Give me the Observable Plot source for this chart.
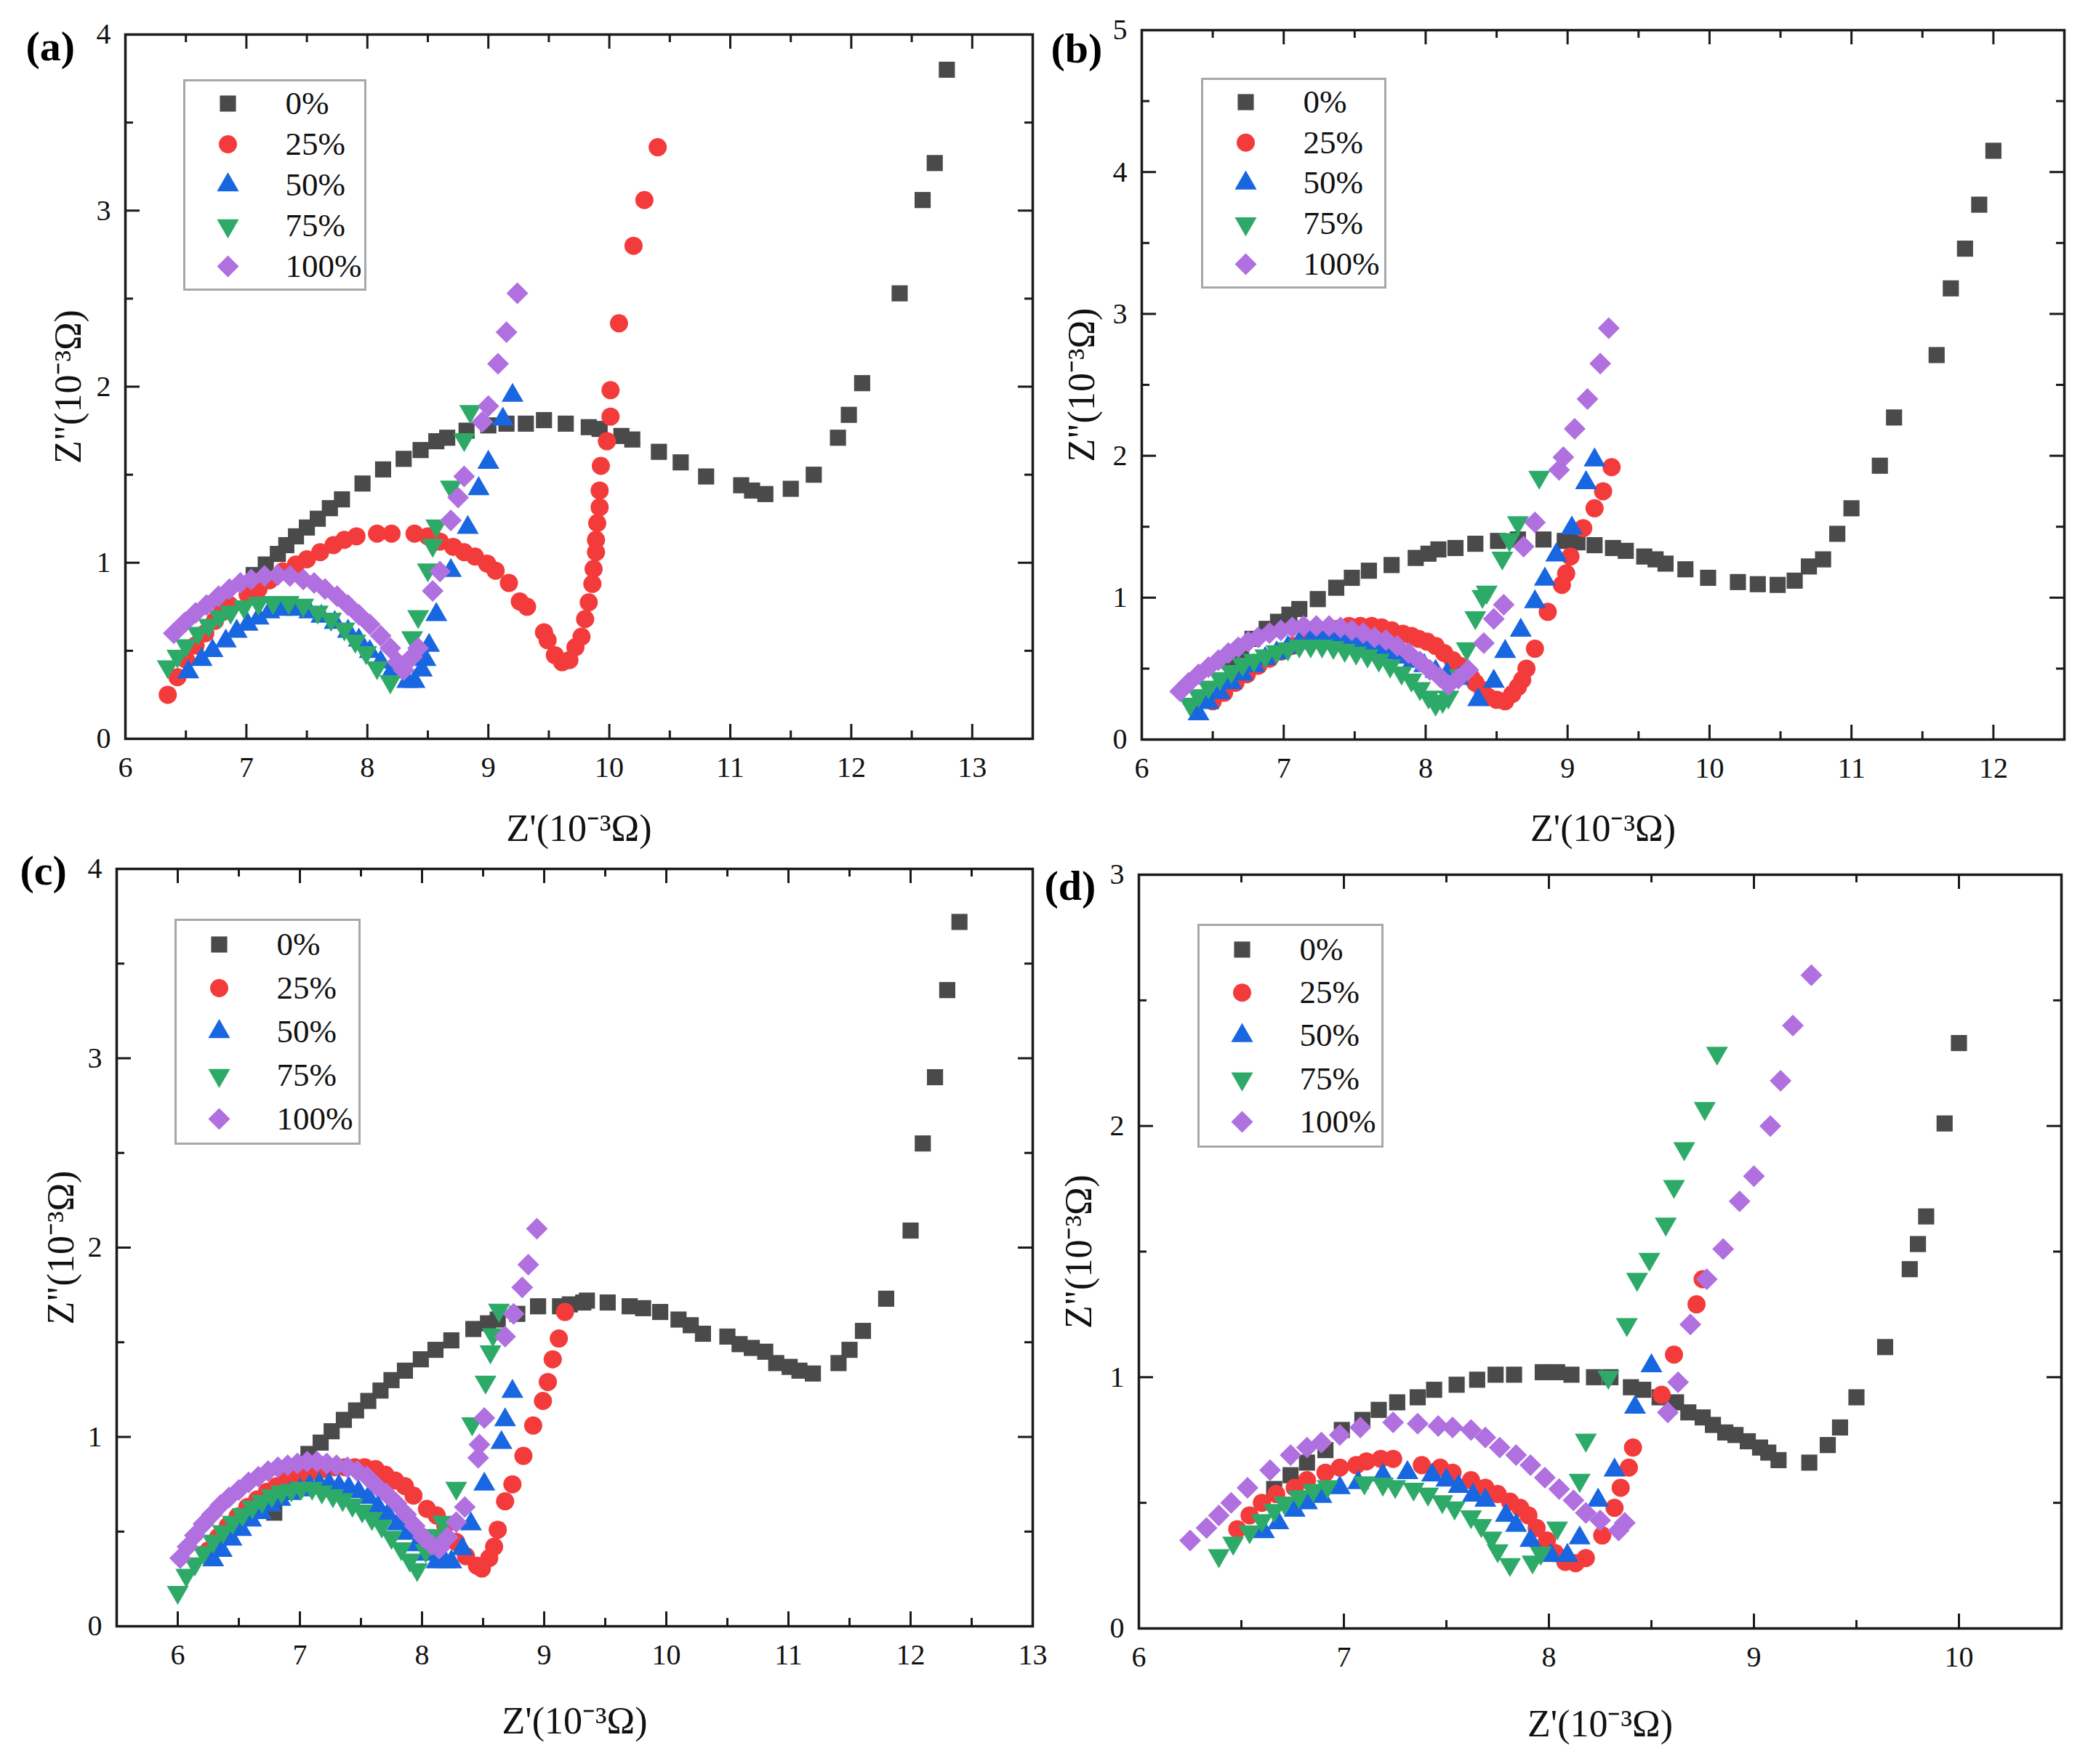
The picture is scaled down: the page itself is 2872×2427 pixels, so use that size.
<!DOCTYPE html>
<html><head><meta charset="utf-8">
<script src="https://cdn.jsdelivr.net/npm/d3@7"></script>
<script src="https://cdn.jsdelivr.net/npm/@observablehq/plot@0.6"></script>
<style>
body{margin:0;background:#fff;}
#root{position:relative;width:2872px;height:2427px;background:#fff;overflow:hidden;}
.panel{position:absolute;}
.panel svg{overflow:visible;}
</style></head><body><div id="root"></div>
<script>
// ---------- legend / series ----------
const seriesNames = ["0%", "25%", "50%", "75%", "100%"];
const seriesColors = ["#4a4a4a", "#f43b3b", "#1866e0", "#2eaa68", "#b070e0"];
const seriesSymbols = ["square", "circle", "triangle", "triangle", "diamond2"];
const xTitle = "Z'(10⁻³Ω)";
const yTitle = 'Z"(10⁻³Ω)';

// ---------- panel (a) ----------
const a0 = [[7.06,0.93],[7.16,0.99],[7.26,1.05],[7.33,1.10],[7.41,1.15],[7.50,1.20],[7.59,1.25],[7.69,1.31],[7.79,1.36],[7.96,1.45],[8.13,1.53],[8.30,1.59],[8.44,1.64],[8.57,1.69],[8.66,1.71],[8.82,1.75],[9.00,1.78],[9.15,1.79],[9.31,1.79],[9.46,1.81],[9.64,1.79],[9.83,1.77],[9.92,1.76],[10.10,1.72],[10.19,1.70],[10.41,1.63],[10.59,1.57],[10.80,1.49],[11.09,1.44],[11.18,1.41],[11.29,1.39],[11.50,1.42],[11.69,1.50],[11.89,1.71],[11.98,1.84],[12.09,2.02],[12.40,2.53],[12.59,3.06],[12.69,3.27],[12.79,3.80]];
const a1 = [[6.35,0.25],[6.43,0.35],[6.50,0.45],[6.58,0.53],[6.66,0.60],[6.74,0.67],[6.80,0.72],[6.86,0.76],[7.01,0.82],[7.10,0.85],[7.19,0.90],[7.30,0.95],[7.41,0.99],[7.50,1.02],[7.61,1.06],[7.72,1.10],[7.81,1.13],[7.91,1.15],[8.08,1.165],[8.20,1.165],[8.39,1.165],[8.50,1.15],[8.60,1.12],[8.71,1.09],[8.80,1.06],[8.89,1.035],[8.99,0.995],[9.06,0.955],[9.17,0.885],[9.26,0.78],[9.32,0.75],[9.46,0.605],[9.49,0.56],[9.55,0.475],[9.61,0.435],[9.67,0.447],[9.72,0.52],[9.77,0.58],[9.80,0.68],[9.83,0.775],[9.86,0.88],[9.87,0.965],[9.89,1.06],[9.89,1.13],[9.90,1.225],[9.92,1.315],[9.92,1.41],[9.93,1.55],[9.98,1.69],[10.01,1.83],[10.01,1.98],[10.08,2.36],[10.20,2.80],[10.29,3.06],[10.40,3.36]];
const a2 = [[6.52,0.38],[6.63,0.45],[6.72,0.50],[6.83,0.555],[6.92,0.61],[7.01,0.65],[7.10,0.685],[7.19,0.72],[7.29,0.735],[7.41,0.735],[7.52,0.72],[7.62,0.695],[7.73,0.66],[7.84,0.61],[7.93,0.56],[8.02,0.495],[8.11,0.435],[8.20,0.38],[8.33,0.325],[8.39,0.325],[8.45,0.39],[8.48,0.45],[8.51,0.53],[8.57,0.705],[8.69,0.955],[8.83,1.20],[8.92,1.42],[9.00,1.57],[9.12,1.815],[9.20,1.95]];
const a3 = [[6.35,0.41],[6.43,0.47],[6.50,0.53],[6.60,0.60],[6.69,0.645],[6.78,0.695],[6.87,0.72],[6.98,0.75],[7.10,0.77],[7.22,0.775],[7.35,0.775],[7.47,0.76],[7.59,0.72],[7.70,0.68],[7.81,0.625],[7.90,0.555],[7.99,0.49],[8.08,0.405],[8.19,0.325],[8.30,0.435],[8.37,0.575],[8.42,0.695],[8.50,0.96],[8.54,1.10],[8.57,1.21],[8.69,1.43],[8.80,1.70],[8.85,1.86]];
const a4 = [[6.40,0.60],[6.49,0.66],[6.58,0.715],[6.67,0.76],[6.77,0.81],[6.86,0.85],[6.95,0.885],[7.04,0.905],[7.15,0.925],[7.26,0.93],[7.36,0.925],[7.47,0.905],[7.56,0.885],[7.65,0.85],[7.75,0.81],[7.84,0.76],[7.93,0.705],[8.02,0.65],[8.11,0.585],[8.19,0.515],[8.25,0.435],[8.30,0.39],[8.37,0.465],[8.42,0.515],[8.54,0.84],[8.60,0.95],[8.69,1.24],[8.75,1.37],[8.80,1.49],[8.95,1.80],[9.00,1.89],[9.08,2.13],[9.15,2.31],[9.24,2.53]];
const aXTicks = [6,7,8,9,10,11,12,13];
const aXMinor = [6.5,7.5,8.5,9.5,10.5,11.5,12.5];
const aYTicks = [0,1,2,3,4];
const aYMinor = [0.5,1.5,2.5,3.5];

// ---------- panel (b) ----------
const b0 = [[6.62,0.55],[6.70,0.63],[6.78,0.71],[6.88,0.78],[6.96,0.83],[7.04,0.88],[7.11,0.92],[7.24,0.99],[7.37,1.07],[7.48,1.14],[7.60,1.19],[7.76,1.23],[7.93,1.28],[8.02,1.31],[8.09,1.34],[8.21,1.35],[8.35,1.38],[8.51,1.40],[8.65,1.41],[8.83,1.41],[8.98,1.40],[9.07,1.39],[9.19,1.37],[9.32,1.35],[9.41,1.33],[9.54,1.29],[9.62,1.27],[9.69,1.24],[9.83,1.20],[9.99,1.14],[10.20,1.11],[10.34,1.095],[10.48,1.09],[10.60,1.12],[10.70,1.22],[10.80,1.27],[10.90,1.45],[11.00,1.63],[11.20,1.93],[11.30,2.27],[11.60,2.71],[11.70,3.18],[11.80,3.46],[11.90,3.77],[12.00,4.15]];
const b1 = [[6.50,0.27],[6.58,0.33],[6.66,0.40],[6.74,0.46],[6.82,0.52],[6.90,0.57],[6.98,0.62],[7.06,0.66],[7.14,0.70],[7.22,0.73],[7.30,0.76],[7.38,0.78],[7.46,0.80],[7.54,0.80],[7.62,0.80],[7.69,0.79],[7.76,0.77],[7.84,0.745],[7.90,0.73],[7.95,0.71],[8.01,0.69],[8.07,0.66],[8.13,0.61],[8.19,0.56],[8.24,0.52],[8.28,0.49],[8.32,0.44],[8.35,0.40],[8.40,0.35],[8.44,0.30],[8.50,0.28],[8.56,0.27],[8.61,0.32],[8.65,0.37],[8.68,0.42],[8.71,0.50],[8.77,0.64],[8.86,0.90],[8.96,1.09],[8.99,1.17],[9.02,1.29],[9.11,1.49],[9.19,1.63],[9.25,1.75],[9.31,1.92]];
const b2 = [[6.40,0.18],[6.47,0.26],[6.55,0.33],[6.63,0.40],[6.71,0.46],[6.79,0.52],[6.87,0.57],[6.95,0.61],[7.03,0.65],[7.11,0.68],[7.19,0.70],[7.27,0.71],[7.35,0.71],[7.43,0.70],[7.51,0.69],[7.59,0.67],[7.67,0.64],[7.75,0.61],[7.83,0.58],[7.91,0.55],[7.99,0.52],[8.07,0.48],[8.15,0.46],[8.23,0.43],[8.37,0.28],[8.48,0.41],[8.56,0.62],[8.67,0.77],[8.77,0.97],[8.84,1.13],[8.92,1.30],[9.03,1.49],[9.13,1.81],[9.19,1.97]];
const b3 = [[6.34,0.25],[6.40,0.31],[6.47,0.37],[6.55,0.43],[6.63,0.48],[6.71,0.53],[6.79,0.56],[6.87,0.59],[6.95,0.62],[7.03,0.64],[7.11,0.66],[7.19,0.66],[7.27,0.66],[7.35,0.65],[7.43,0.63],[7.51,0.61],[7.59,0.59],[7.67,0.56],[7.75,0.52],[7.83,0.47],[7.90,0.42],[7.96,0.36],[8.02,0.30],[8.07,0.25],[8.12,0.27],[8.16,0.30],[8.24,0.45],[8.29,0.64],[8.35,0.86],[8.40,1.01],[8.43,1.04],[8.54,1.28],[8.59,1.41],[8.65,1.53],[8.80,1.85]];
const b4 = [[6.27,0.34],[6.33,0.40],[6.40,0.46],[6.47,0.51],[6.54,0.56],[6.61,0.61],[6.68,0.65],[6.75,0.69],[6.82,0.72],[6.90,0.75],[6.98,0.77],[7.06,0.79],[7.14,0.80],[7.23,0.80],[7.32,0.80],[7.40,0.79],[7.48,0.77],[7.56,0.75],[7.64,0.72],[7.72,0.70],[7.80,0.66],[7.88,0.61],[7.96,0.55],[8.03,0.49],[8.10,0.44],[8.16,0.385],[8.23,0.43],[8.30,0.49],[8.41,0.68],[8.48,0.85],[8.55,0.95],[8.69,1.36],[8.77,1.53],[8.94,1.90],[8.97,1.99],[9.05,2.19],[9.14,2.40],[9.23,2.65],[9.29,2.90]];
const bXTicks = [6,7,8,9,10,11,12];
const bXMinor = [6.5,7.5,8.5,9.5,10.5,11.5];
const bYTicks = [0,1,2,3,4,5];
const bYMinor = [0.5,1.5,2.5,3.5,4.5];

// ---------- panel (c) ----------
const c0 = [[6.79,0.60],[6.88,0.71],[6.97,0.81],[7.07,0.91],[7.17,0.97],[7.26,1.03],[7.36,1.09],[7.46,1.14],[7.56,1.19],[7.66,1.245],[7.75,1.30],[7.86,1.35],[7.99,1.41],[8.11,1.46],[8.24,1.51],[8.42,1.57],[8.54,1.60],[8.62,1.62],[8.78,1.65],[8.95,1.69],[9.13,1.69],[9.21,1.70],[9.32,1.71],[9.35,1.72],[9.52,1.71],[9.70,1.69],[9.81,1.68],[9.95,1.66],[10.10,1.62],[10.20,1.59],[10.30,1.545],[10.50,1.53],[10.60,1.49],[10.70,1.47],[10.81,1.45],[10.90,1.39],[11.01,1.37],[11.09,1.35],[11.20,1.335],[11.41,1.39],[11.50,1.46],[11.61,1.56],[11.80,1.73],[12.00,2.09],[12.10,2.55],[12.20,2.90],[12.30,3.36],[12.40,3.72]];
const c1 = [[6.25,0.40],[6.33,0.47],[6.41,0.53],[6.49,0.58],[6.57,0.63],[6.65,0.67],[6.73,0.71],[6.81,0.74],[6.89,0.77],[6.97,0.79],[7.05,0.81],[7.13,0.82],[7.21,0.83],[7.29,0.84],[7.37,0.84],[7.45,0.84],[7.53,0.84],[7.62,0.83],[7.70,0.80],[7.78,0.77],[7.86,0.74],[7.93,0.69],[8.04,0.62],[8.12,0.585],[8.19,0.535],[8.28,0.445],[8.36,0.37],[8.45,0.32],[8.49,0.305],[8.55,0.36],[8.59,0.42],[8.62,0.51],[8.68,0.66],[8.74,0.75],[8.83,0.90],[8.91,1.06],[8.99,1.19],[9.03,1.29],[9.07,1.41],[9.12,1.52],[9.17,1.66]];
const c2 = [[6.29,0.35],[6.36,0.40],[6.44,0.46],[6.52,0.51],[6.60,0.56],[6.68,0.60],[6.76,0.64],[6.84,0.67],[6.92,0.70],[7.00,0.72],[7.08,0.74],[7.16,0.75],[7.24,0.75],[7.32,0.74],[7.40,0.73],[7.48,0.71],[7.56,0.68],[7.64,0.63],[7.72,0.59],[7.80,0.54],[7.88,0.49],[7.96,0.43],[8.04,0.38],[8.12,0.34],[8.19,0.34],[8.24,0.34],[8.33,0.41],[8.40,0.54],[8.51,0.75],[8.65,0.97],[8.68,1.09],[8.74,1.24]];
const c3 = [[6.00,0.18],[6.07,0.27],[6.14,0.33],[6.21,0.39],[6.29,0.45],[6.37,0.50],[6.45,0.55],[6.53,0.59],[6.61,0.63],[6.69,0.66],[6.77,0.69],[6.85,0.71],[6.93,0.72],[7.01,0.73],[7.10,0.73],[7.18,0.71],[7.27,0.69],[7.35,0.67],[7.43,0.64],[7.51,0.61],[7.59,0.57],[7.67,0.53],[7.75,0.47],[7.83,0.41],[7.90,0.35],[7.96,0.30],[8.03,0.40],[8.09,0.48],[8.17,0.55],[8.28,0.73],[8.41,1.07],[8.52,1.29],[8.56,1.45],[8.58,1.54],[8.63,1.67]];
const c4 = [[6.02,0.36],[6.08,0.42],[6.14,0.48],[6.21,0.54],[6.28,0.59],[6.35,0.64],[6.42,0.68],[6.50,0.72],[6.58,0.76],[6.66,0.79],[6.74,0.82],[6.82,0.84],[6.90,0.85],[6.98,0.86],[7.06,0.87],[7.14,0.87],[7.22,0.86],[7.30,0.85],[7.39,0.84],[7.47,0.82],[7.55,0.79],[7.63,0.74],[7.71,0.70],[7.79,0.65],[7.87,0.59],[7.94,0.53],[8.01,0.47],[8.08,0.43],[8.14,0.41],[8.21,0.47],[8.28,0.55],[8.35,0.63],[8.46,0.89],[8.47,0.96],[8.51,1.10],[8.68,1.53],[8.75,1.65],[8.82,1.79],[8.87,1.91],[8.94,2.10]];
const cXTicks = [6,7,8,9,10,11,12,13];
const cXMinor = [6.5,7.5,8.5,9.5,10.5,11.5,12.5];
const cYTicks = [0,1,2,3,4];
const cYMinor = [0.5,1.5,2.5,3.5];

// ---------- panel (d) ----------
const d0 = [[6.66,0.555],[6.74,0.61],[6.82,0.66],[6.91,0.71],[6.99,0.79],[7.09,0.83],[7.17,0.87],[7.26,0.90],[7.36,0.92],[7.44,0.95],[7.55,0.97],[7.65,0.99],[7.74,1.01],[7.83,1.01],[7.97,1.02],[8.04,1.02],[8.11,1.01],[8.22,1.00],[8.30,1.00],[8.40,0.96],[8.46,0.95],[8.54,0.92],[8.62,0.90],[8.68,0.86],[8.75,0.84],[8.80,0.81],[8.86,0.78],[8.91,0.77],[8.97,0.745],[9.03,0.72],[9.07,0.70],[9.12,0.67],[9.27,0.66],[9.36,0.73],[9.42,0.80],[9.50,0.92],[9.64,1.12],[9.76,1.43],[9.80,1.53],[9.84,1.64],[9.93,2.01],[10.00,2.33]];
const d1 = [[6.48,0.395],[6.54,0.45],[6.60,0.50],[6.67,0.535],[6.76,0.56],[6.82,0.59],[6.91,0.62],[6.98,0.64],[7.06,0.65],[7.11,0.665],[7.18,0.675],[7.24,0.675],[7.38,0.65],[7.47,0.64],[7.53,0.62],[7.62,0.59],[7.69,0.56],[7.75,0.535],[7.81,0.505],[7.86,0.48],[7.90,0.45],[7.94,0.40],[7.99,0.35],[8.03,0.30],[8.08,0.265],[8.13,0.26],[8.18,0.28],[8.26,0.37],[8.32,0.48],[8.35,0.56],[8.39,0.64],[8.41,0.72],[8.55,0.93],[8.61,1.09],[8.72,1.29],[8.75,1.39]];
const d2 = [[6.61,0.385],[6.68,0.42],[6.76,0.47],[6.82,0.50],[6.89,0.525],[6.98,0.56],[7.07,0.58],[7.19,0.61],[7.31,0.62],[7.43,0.61],[7.50,0.59],[7.56,0.565],[7.63,0.53],[7.69,0.51],[7.79,0.45],[7.84,0.41],[7.91,0.35],[8.01,0.29],[8.09,0.29],[8.15,0.36],[8.24,0.51],[8.32,0.63],[8.42,0.88],[8.50,1.045]];
const d3 = [[6.39,0.29],[6.46,0.34],[6.54,0.385],[6.60,0.43],[6.66,0.47],[6.71,0.50],[6.78,0.525],[6.85,0.55],[6.92,0.565],[7.10,0.58],[7.19,0.575],[7.25,0.565],[7.34,0.555],[7.41,0.535],[7.48,0.505],[7.54,0.48],[7.62,0.445],[7.67,0.41],[7.72,0.36],[7.75,0.31],[7.81,0.255],[7.92,0.265],[7.96,0.30],[8.04,0.40],[8.15,0.59],[8.18,0.75],[8.29,1.00],[8.38,1.21],[8.43,1.39],[8.49,1.47],[8.57,1.61],[8.61,1.76],[8.66,1.91],[8.76,2.07],[8.82,2.29]];
const d4 = [[6.25,0.35],[6.33,0.40],[6.39,0.45],[6.45,0.50],[6.53,0.56],[6.64,0.63],[6.74,0.69],[6.82,0.72],[6.89,0.74],[6.98,0.77],[7.08,0.80],[7.24,0.82],[7.36,0.815],[7.46,0.806],[7.53,0.80],[7.62,0.79],[7.69,0.76],[7.76,0.72],[7.84,0.69],[7.91,0.65],[7.98,0.60],[8.05,0.555],[8.12,0.51],[8.18,0.46],[8.25,0.43],[8.34,0.39],[8.37,0.42],[8.58,0.86],[8.63,0.98],[8.69,1.21],[8.77,1.39],[8.85,1.51],[8.93,1.70],[9.00,1.80],[9.08,2.00],[9.13,2.18],[9.19,2.40],[9.28,2.60]];
const dXTicks = [6,7,8,9,10];
const dXMinor = [6.5,7.5,8.5,9.5];
const dYTicks = [0,1,2,3];
const dYMinor = [0.5,1.5,2.5];

// ---------- drawing ----------
const FONT = "'Liberation Serif', 'Times New Roman', serif";
const dotR = [12.5, 12.5, 11.2, 11.2, 13.5];
const dotRot = [0, 0, 0, 180, 0];

function drawPanel(p) {
  const fw = p.width - p.ml - p.mr, fh = p.height - p.mt - p.mb;
  const marks = [];
  const tickStyle = {stroke: "#1a1a1a", strokeWidth: 3};
  // ticks pointing inwards on all four sides
  const addTicksX = (ticks, len) => {
    marks.push(Plot.tickX(ticks, {x: d => d, insetTop: fh - len, ...tickStyle}));
    marks.push(Plot.tickX(ticks, {x: d => d, insetBottom: fh - len, ...tickStyle}));
  };
  const addTicksY = (ticks, len) => {
    marks.push(Plot.tickY(ticks, {y: d => d, insetRight: fw - len, ...tickStyle}));
    marks.push(Plot.tickY(ticks, {y: d => d, insetLeft: fw - len, ...tickStyle}));
  };
  addTicksX(p.xTicks, 20); addTicksX(p.xMinor, 11);
  addTicksY(p.yTicks, 20); addTicksY(p.yMinor, 11);
  // series
  p.series.forEach((s, i) => {
    marks.push(Plot.dot(s, {x: d => d[0], y: d => d[1], symbol: seriesSymbols[i], fill: seriesColors[i], r: dotR[i], rotate: dotRot[i]}));
  });
  marks.push(Plot.frame({stroke: "#1a1a1a", strokeWidth: 3.5}));
  // tick labels
  marks.push(Plot.axisX({ticks: p.xTicks, tickSize: 0, tickPadding: 24, label: null, tickFormat: d => String(d), fontSize: 40, fill: "#111"}));
  marks.push(Plot.axisY({ticks: p.yTicks, tickSize: 0, tickPadding: 20, label: null, tickFormat: d => String(d), fontSize: 40, fill: "#111"}));
  // axis titles
  marks.push(Plot.text([xTitle], {frameAnchor: "bottom", dy: p.xtDy, text: d => d, fontSize: 52, textAnchor: "middle", lineAnchor: "middle", fill: "#111"}));
  marks.push(Plot.text([yTitle], {frameAnchor: "left", dx: -p.ytDx, text: d => d, fontSize: 52, rotate: -90, textAnchor: "middle", lineAnchor: "middle", fill: "#111"}));
  // panel label
  marks.push(Plot.text([p.label], {frameAnchor: "top-left", dx: p.lx, dy: p.ly, text: d => d, fontSize: 58, fontWeight: "bold", textAnchor: "start", lineAnchor: "bottom", fill: "#000"}));
  // legend box
  const lg = p.legend;
  marks.push(Plot.frame({insetLeft: lg.left, insetTop: lg.top, insetRight: fw - lg.left - lg.w, insetBottom: fh - lg.top - lg.h, stroke: "#a8a8a8", strokeWidth: 3}));
  const step = (lg.h - 2 * lg.pad) / 4;
  seriesNames.forEach((n, i) => {
    const yy = lg.top + lg.pad + i * step;
    marks.push(Plot.dot([n], {frameAnchor: "top-left", dx: lg.left + 60, dy: yy, symbol: seriesSymbols[i], fill: seriesColors[i], r: dotR[i], rotate: dotRot[i]}));
    marks.push(Plot.text([n], {frameAnchor: "top-left", dx: lg.left + 139, dy: yy, text: d => d, textAnchor: "start", lineAnchor: "middle", fontSize: 45, fill: "#111"}));
  });

  const svg = Plot.plot({
    width: p.width, height: p.height,
    marginLeft: p.ml, marginRight: p.mr, marginTop: p.mt, marginBottom: p.mb,
    x: {domain: p.xDomain},
    y: {domain: p.yDomain},
    style: {fontFamily: FONT, fontSize: "40px", background: "transparent", color: "#111", overflow: "visible"},
    marks
  });
  const div = document.createElement("div");
  div.className = "panel";
  div.style.left = p.left + "px";
  div.style.top = p.top + "px";
  div.style.width = p.width + "px";
  div.style.height = p.height + "px";
  div.appendChild(svg);
  document.getElementById("root").appendChild(div);
}

drawPanel({label: "(a)", left: 0, top: 0, width: 1436, height: 1180, ml: 172, mr: 16, mt: 47, mb: 164,
  xDomain: [6, 13.5], yDomain: [0, 4], xTicks: aXTicks, xMinor: aXMinor, yTicks: aYTicks, yMinor: aYMinor,
  series: [a0, a1, a2, a3, a4], xtDy: 124, ytDx: 78, lx: -137, ly: 35,
  legend: {left: 81, top: 63, w: 249, h: 288, pad: 32}});
drawPanel({label: "(b)", left: 1436, top: 0, width: 1436, height: 1180, ml: 134, mr: 33, mt: 41, mb: 163,
  xDomain: [6, 12.5], yDomain: [0, 5], xTicks: bXTicks, xMinor: bXMinor, yTicks: bYTicks, yMinor: bYMinor,
  series: [b0, b1, b2, b3, b4], xtDy: 123, ytDx: 82, lx: -125, ly: 44,
  legend: {left: 83, top: 67, w: 252, h: 287, pad: 32}});
drawPanel({label: "(c)", left: 0, top: 1170, width: 1436, height: 1257, ml: 160, mr: 16, mt: 25, mb: 190,
  xDomain: [5.5, 13], yDomain: [0, 4], xTicks: cXTicks, xMinor: cXMinor, yTicks: cYTicks, yMinor: cYMinor,
  series: [c0, c1, c2, c3, c4], xtDy: 131, ytDx: 76, lx: -133, ly: 21,
  legend: {left: 81, top: 70, w: 253, h: 308, pad: 34}});
drawPanel({label: "(d)", left: 1436, top: 1170, width: 1436, height: 1257, ml: 130, mr: 37, mt: 33, mb: 187,
  xDomain: [6, 10.5], yDomain: [0, 3], xTicks: dXTicks, xMinor: dXMinor, yTicks: dYTicks, yMinor: dYMinor,
  series: [d0, d1, d2, d3, d4], xtDy: 132, ytDx: 82, lx: -130, ly: 34,
  legend: {left: 82, top: 69, w: 253, h: 305, pad: 34}});
</script>
</body></html>
